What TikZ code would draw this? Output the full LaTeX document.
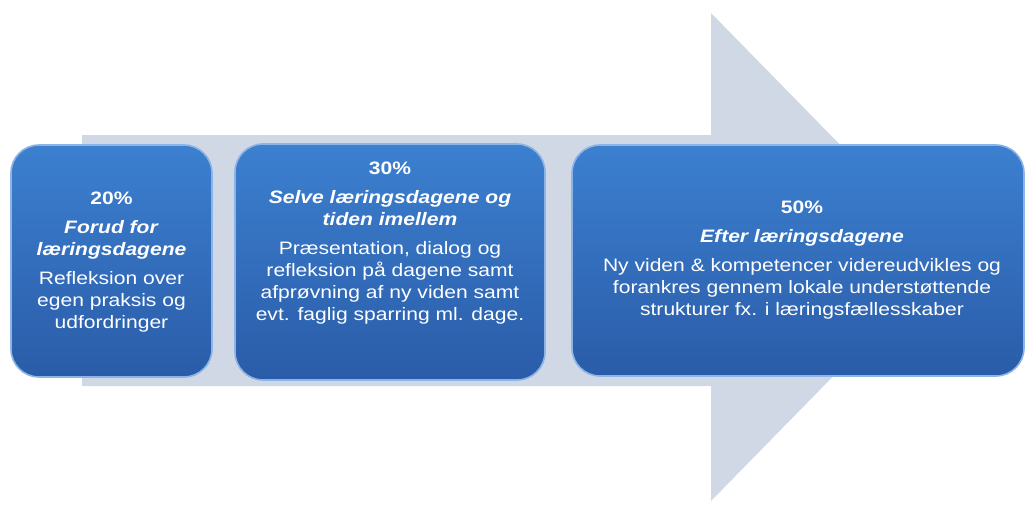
\documentclass[tikz,border=0pt]{standalone}
\usepackage{fontspec}
\setmainfont[FakeStretch=1.17]{Liberation Sans}
\usetikzlibrary{positioning}
\definecolor{arrowgray}{RGB}{208,215,229}
\definecolor{boxtop}{RGB}{60,128,208}
\definecolor{boxbottom}{RGB}{42,92,168}
\definecolor{boxedge}{RGB}{140,180,228}

\begin{document}
\begin{tikzpicture}[x=1pt,y=-1pt,
  stagebox/.style={rounded corners=28pt,draw=boxedge,line width=1.6pt,top color=boxtop,bottom color=boxbottom,inner sep=0pt},
  stagetext/.style={text=white,align=center,font=\fontsize{18}{22}\selectfont,inner sep=0pt}]
\useasboundingbox (0,0) rectangle (1026,504);

% Arrow
\fill[arrowgray] (82,135) -- (711,135) -- (711,13) -- (950,257) -- (711,501) -- (711,386) -- (82,386) -- cycle;

% Boxes
\node[stagebox,minimum width=201pt,minimum height=232pt] (b1) at (111.5,261) {};
\node[stagebox,minimum width=310pt,minimum height=236pt] (b2) at (390,262) {};
\node[stagebox,minimum width=452pt,minimum height=231pt] (b3) at (798,260.5) {};

% Text
\node[stagetext] (t1) at ([yshift=-1pt]b1.center) {\textbf{20\%}\\[7pt]\textbf{\textit{Forud for}}\\\textbf{\textit{læringsdagene}}\\[7pt]Refleksion over\\egen praksis og\\udfordringer};
\node[stagetext] (t2) at ([yshift=19pt]b2.center) {\textbf{30\%}\\[7pt]\textbf{\textit{Selve læringsdagene og}}\\\textbf{\textit{tiden imellem}}\\[7pt]Præsentation, dialog og\\refleksion på dagene samt\\afprøvning af ny viden samt\\evt. faglig sparring ml. dage.};
\node[stagetext] (t3) at ([xshift=4pt]b3.center) {\textbf{50\%}\\[7pt]\textbf{\textit{Efter læringsdagene}}\\[7pt]Ny viden \& kompetencer videreudvikles og\\forankres gennem lokale understøttende\\strukturer fx. i læringsfællesskaber};
\end{tikzpicture}
\end{document}
